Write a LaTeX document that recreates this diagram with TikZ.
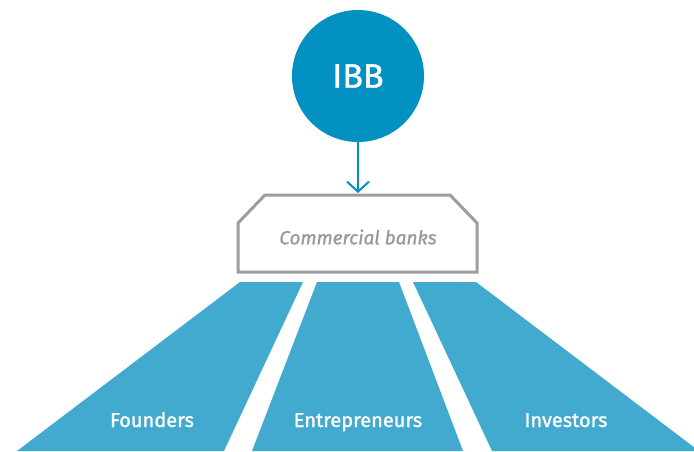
\documentclass[tikz,border=0pt]{standalone}
\usepackage{fontspec}
\setmainfont{Fira Sans}
\newfontfamily\heavyfont[FakeBold=1.2]{Fira Sans}
\usepackage{xcolor}
\usetikzlibrary{arrows.meta}
\definecolor{IBBblue}{HTML}{0391C1}
\definecolor{Lane}{HTML}{43AACF}
\definecolor{BoxGray}{HTML}{9D9D9D}
\definecolor{TextGray}{HTML}{999999}
\tikzset{lane/.style={fill=Lane, draw=none},
  lanelabel/.style={text=white, font=\heavyfont\fontsize{20}{23}\selectfont, inner sep=0pt, anchor=base},
  ibbnode/.style={circle, fill=IBBblue, minimum size=132pt, inner sep=0pt, text=white, font=\heavyfont\fontsize{34}{38}\selectfont},
  bankbox/.style={draw=BoxGray, line width=3pt, line join=miter},
  feed/.style={draw=IBBblue, line width=2pt, -{Straight Barb[length=10pt, width=22pt, line width=2pt]}}}

\begin{document}
\begin{tikzpicture}[x=1pt, y=-1pt]%
\clip (0,0) rectangle (694,451);%
\node[ibbnode] (ibb) at (358,76) {IBB};%
\draw[bankbox] (238,272) -- (238,223) -- (265,195) -- (450,195) -- (477,223) -- (477,272) -- cycle;%
\coordinate (bankstop) at (358,193);%
\node[text=TextGray, font=\heavyfont\fontsize{19}{23}\selectfont\itshape] (banks) at (358,237) {Commercial banks};%
\draw[feed] (ibb) -- (bankstop);%
\fill[lane] (240,282) -- (303,282) -- (224,451) -- (17,451) -- cycle;%
\fill[lane] (317,282) -- (399,282) -- (463,451) -- (252,451) -- cycle;%
\fill[lane] (413,282) -- (476,282) -- (699,451) -- (492,451) -- cycle;%
\node[lanelabel] (founders) at (152,427) {Founders};%
\node[lanelabel] (entrepreneurs) at (358,427) {Entrepreneurs};%
\node[lanelabel] (investors) at (566,427) {Investors};%
\end{tikzpicture}
\end{document}
